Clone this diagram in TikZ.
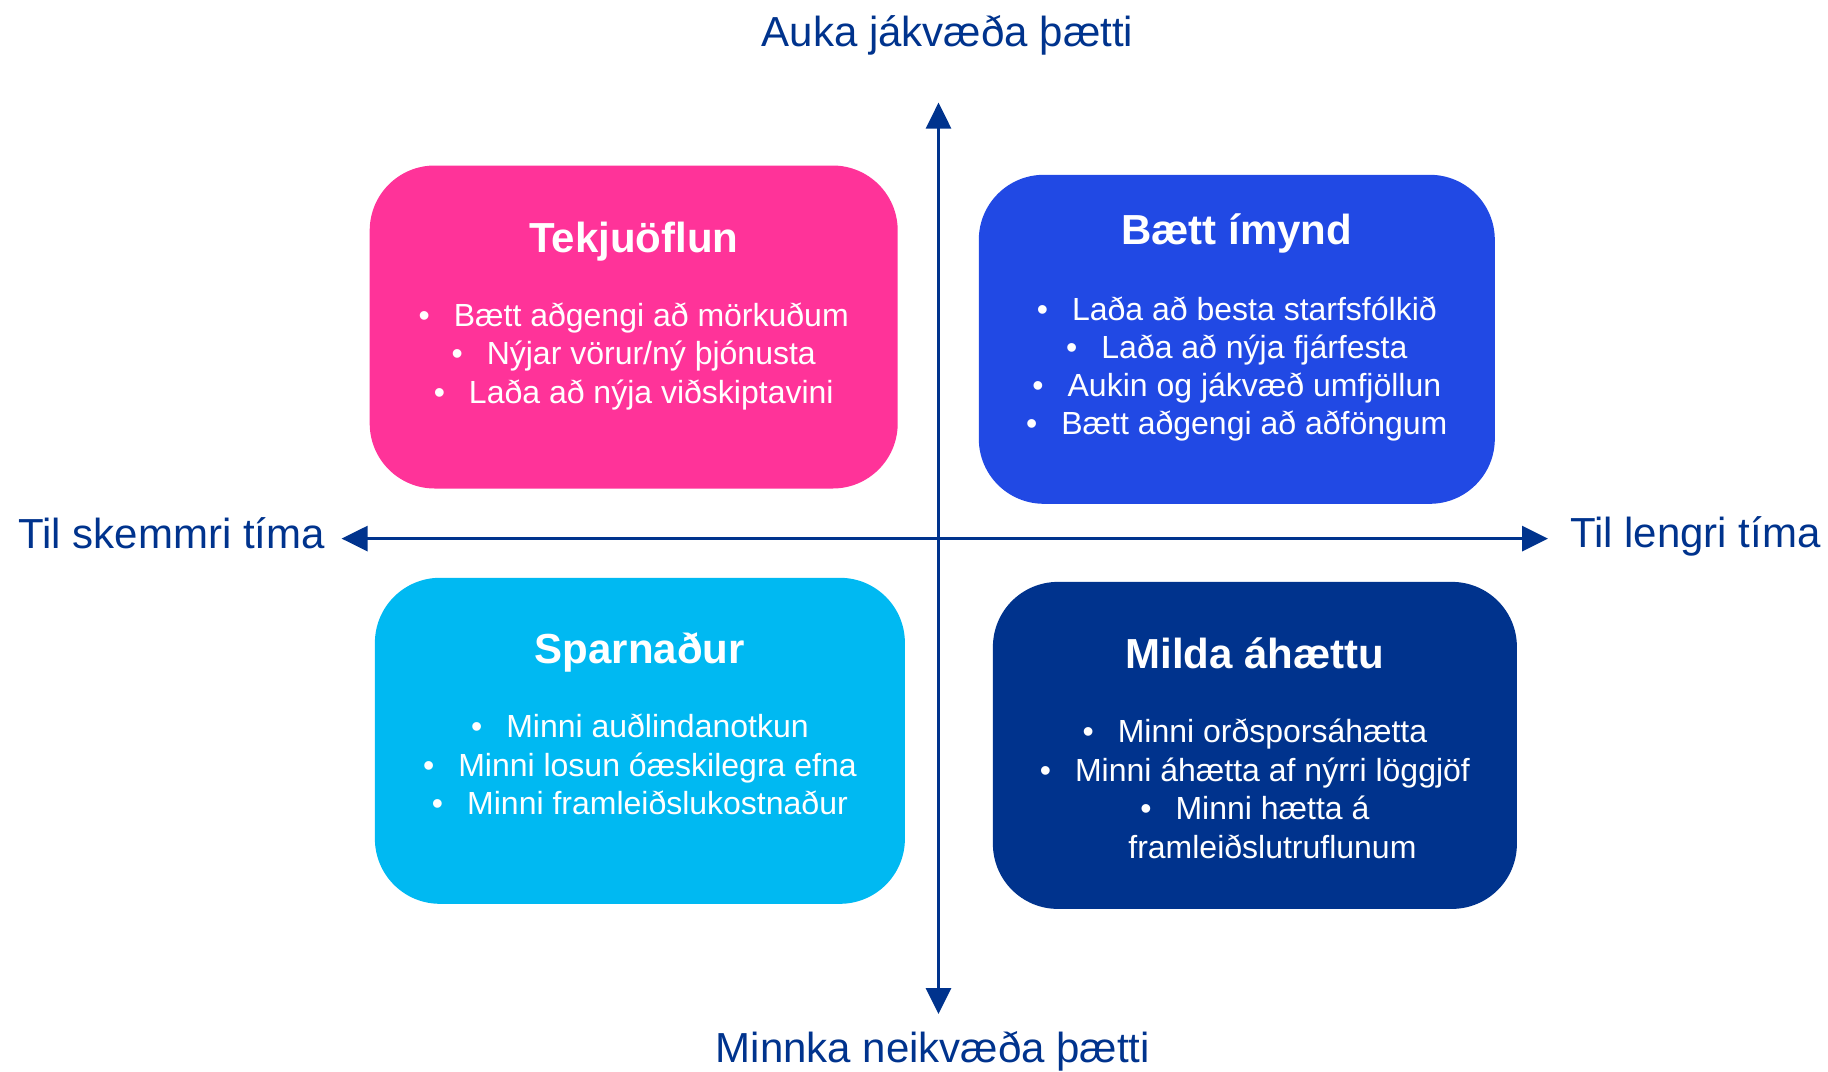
\documentclass[tikz,border=0pt]{standalone}
\usepackage{fontspec}
\setmainfont{Liberation Sans}
\usetikzlibrary{arrows.meta}
\definecolor{cpink}{RGB}{255,51,153}
\definecolor{cblue}{RGB}{33,73,228}
\definecolor{ccyan}{RGB}{0,185,242}
\definecolor{cnavy}{RGB}{0,51,141}
\definecolor{caxis}{RGB}{0,51,141}
\tikzset{
  quadbox/.style={draw=none, rounded corners=65pt, inner sep=0pt},
  qtitle/.style={anchor=base, text=white, inner sep=0pt, font=\fontsize{42}{48}\selectfont\bfseries},
  qitem/.style={anchor=base, text=white, inner sep=0pt, font=\fontsize{32}{38}\selectfont},
  axlabel/.style={anchor=base, text=caxis, inner sep=0pt, font=\fontsize{42}{48}\selectfont},
  axisline/.style={draw=caxis, line width=3pt, {Triangle[length=26pt,width=25pt]}-{Triangle[length=26pt,width=25pt]}}
}
\newcommand{\bul}{•\hspace{0.75em}}
\begin{document}
\begin{tikzpicture}[x=1pt,y=-1pt]
\useasboundingbox (0,0) rectangle (1828,1071);
% boxes
\node[quadbox, fill=cpink, minimum width=528pt, minimum height=323pt] (pink) at (633.7,327) {};
\node[quadbox, fill=cblue, minimum width=516pt, minimum height=329pt] (blue) at (1236.8,339.3) {};
\node[quadbox, fill=ccyan, minimum width=530pt, minimum height=326pt] (cyan) at (639.9,740.8) {};
\node[quadbox, fill=cnavy, minimum width=524pt, minimum height=327pt] (navy) at (1254.9,745.4) {};
% axes
\coordinate (vtop) at (938.5,102.6);
\coordinate (vbot) at (938.5,1014);
\coordinate (hleft) at (341.6,538.6);
\coordinate (hright) at (1548,538.6);
\draw[axisline] (vbot) -- (vtop);
\draw[axisline] (hleft) -- (hright);
% axis labels
\node[axlabel] (lup) at (947.5,46) {Auka jákvæða þætti};
\node[axlabel] (ldown) at (932.8,1062) {Minnka neikvæða þætti};
\node[axlabel, anchor=base east] (lleft) at (325,548) {Til skemmri tíma};
\node[axlabel, anchor=base west] (lright) at (1570,547) {Til lengri tíma};
% pink
\node[qtitle] (pt) at (633.7,252) {Tekjuöflun};
\node[qitem] (p1) at (633.7,326.3) {\bul Bætt aðgengi að mörkuðum};
\node[qitem] (p2) at (633.7,364.8) {\bul Nýjar vörur/ný þjónusta};
\node[qitem] (p3) at (633.7,403.2) {\bul Laða að nýja viðskiptavini};
% blue
\node[qtitle] (bt) at (1236.8,244.7) {Bætt ímynd};
\node[qitem] (b1) at (1236.8,320.5) {\bul Laða að besta starfsfólkið};
\node[qitem] (b2) at (1236.8,358.5) {\bul Laða að nýja fjárfesta};
\node[qitem] (b3) at (1236.8,396.5) {\bul Aukin og jákvæð umfjöllun};
\node[qitem] (b4) at (1236.8,434.7) {\bul Bætt aðgengi að aðföngum};
% cyan
\node[qtitle] (ct) at (639.9,663.2) {Sparnaður};
\node[qitem] (c1) at (639.9,737.8) {\bul Minni auðlindanotkun};
\node[qitem] (c2) at (639.9,776.3) {\bul Minni losun óæskilegra efna};
\node[qitem] (c3) at (639.9,814.7) {\bul Minni framleiðslukostnaður};
% navy
\node[qtitle] (nt) at (1254.9,668) {Milda áhættu};
\node[qitem] (n1) at (1254.9,742.5) {\bul Minni orðsporsáhætta};
\node[qitem] (n2) at (1254.9,781) {\bul Minni áhætta af nýrri löggjöf};
\node[qitem] (n3) at (1254.9,819.5) {\bul Minni hætta á};
\node[qitem] (n4) at (1272.4,858) {framleiðslutruflunum};
\end{tikzpicture}
\end{document}
